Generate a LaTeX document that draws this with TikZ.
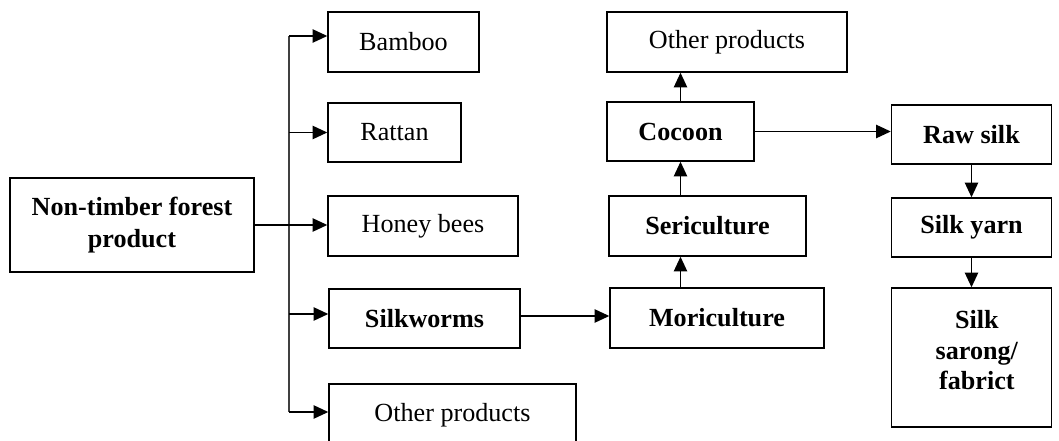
\documentclass[tikz,border=0pt]{standalone}
\usepackage{fontspec}
\setmainfont{Liberation Serif}
\usetikzlibrary{arrows.meta, positioning, calc}
\newcommand{\boxsize}{\fontsize{19.6}{24}\selectfont}
\tikzset{
  box/.style={draw, line width=1.1pt, fill=white, inner sep=2pt, align=center, minimum height=45pt, font=\boxsize},
  bbox/.style={box, font=\boxsize\bfseries},
  arr/.style={-{Triangle[length=11pt, width=10pt]}, line width=1.1pt},
  trunk/.style={line width=0.8pt, black!75},
}

\begin{document}
\begin{tikzpicture}[x=0.75pt, y=-0.75pt]
    \clip (0,0) rectangle (1059,441);
    \fill[white] (0,0) rectangle (1059,441);
    % left side
    \node[bbox, minimum width=183pt, minimum height=70.5pt] (ntfp) at (132,225) {Non-timber forest\\product};
    \node[box, minimum width=113.25pt] (bamboo) at (403.5,42) {Bamboo};
    \node[box, minimum width=99.75pt, minimum height=44.25pt] (rattan) at (394.5,132.5) {Rattan};
    \node[box, minimum width=142.5pt] (honey) at (423,226) {Honey bees};
    \node[bbox, minimum width=143.25pt, minimum height=44.25pt] (silkworm) at (424.5,318.5) {Silkworms};
    \node[box, minimum width=185.25pt, minimum height=46.5pt] (otherlow) at (452.5,415) {Other products};
    % middle column
    \node[box, minimum width=180pt] (othertop) at (727,42) {Other products};
    \node[bbox, minimum width=110.25pt, minimum height=44.25pt] (cocoon) at (680.5,131.5) {Cocoon};
    \node[bbox, minimum width=147.75pt] (seri) at (707.5,226) {Sericulture};
    \node[bbox, minimum width=160.5pt] (mori) at (717,318) {Moriculture};
    % right column
    \node[bbox, minimum width=120pt, minimum height=44.25pt] (raw) at (971.5,134.5) {Raw silk};
    \node[bbox, minimum width=120pt, minimum height=44.25pt] (yarn) at (971.5,227.5) {Silk yarn};
    \node[bbox, minimum width=120pt, minimum height=104.25pt, font=\fontsize{19.6}{23}\selectfont\bfseries] (sarong) at (971.5,357.5) {\hspace*{8pt}Silk\\\hspace*{8pt}sarong/\\\hspace*{8pt}fabrict\\[-12pt]};

    \coordinate (top) at (289,36);
    \coordinate (bot) at (289,412);
    \draw[trunk] (top) -- (bot);
    \draw[arr] (ntfp.east) -- (ntfp.east -| honey.west);
    \draw[arr] (top) -- (top -| bamboo.west);
    \draw[arr] (top |- rattan.west) -- (rattan.west);
    \draw[arr] (top |- 0,314) -- (silkworm.west |- 0,314);
    \draw[arr] (bot) -- (bot -| otherlow.west);

    \draw[arr] (silkworm.east |- 0,316) -- (mori.west |- 0,316);
    \draw[arr] (cocoon.south |- mori.north) -- (cocoon.south |- seri.south);
    \draw[arr] (cocoon.south |- seri.north) -- (cocoon.south);
    \draw[arr] (cocoon.north) -- (cocoon.north |- othertop.south);
    \draw[arr] (cocoon.east) -- (cocoon.east -| raw.west);
    \draw[arr] (raw.south) -- (yarn.north);
    \draw[arr] (yarn.south) -- (sarong.north);
  \end{tikzpicture}
\end{document}
